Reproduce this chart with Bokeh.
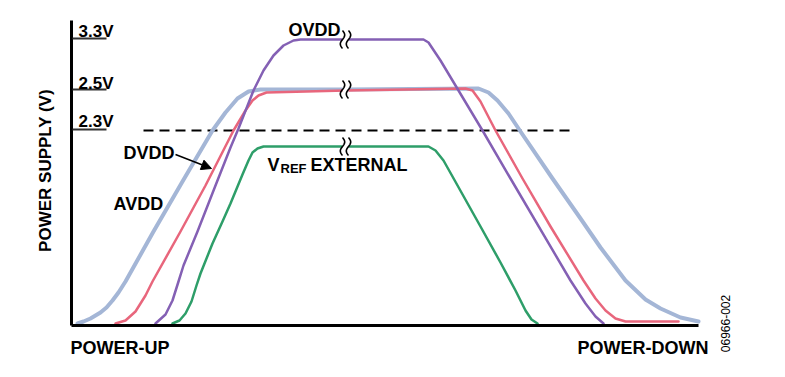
import numpy as np
from bokeh.plotting import figure
from bokeh.models import Range1d, Arrow, NormalHead
from bokeh.core.properties import value
from bokeh.embed import file_html
from bokeh.resources import INLINE

# Schematic power-up / power-down sequence (time units, level units above baseline)
avdd_t = [6, 12, 19, 24, 29, 35, 41, 47, 54, 82, 111, 141, 154, 166, 177, 189, 274, 407, 417, 426, 437, 449, 481, 509, 529, 554, 574, 589, 609, 627]
avdd_v = [2, 4, 7, 10, 13, 18, 25, 33, 44, 94, 144, 195, 213, 227, 234, 236, 236, 237, 233, 225, 212, 194, 147, 107, 78, 45, 26, 17, 8, 4]

dvdd_t = [44, 54, 64, 74, 81, 109, 134, 162, 174, 181, 187, 195, 274, 394, 401, 409, 424, 451, 479, 512, 524, 534, 544, 554, 607]
dvdd_v = [2, 5, 14, 30, 44, 94, 140, 195, 215, 225, 230, 233, 235, 237, 235, 224, 195, 147, 99, 45, 27, 15, 7, 4, 4]

ovdd_t = [84, 94, 101, 107, 112, 126, 144, 159, 167, 182, 192, 202, 212, 222, 229, 352, 357, 369, 399, 411, 439, 499, 514, 524, 532]
ovdd_v = [2, 11, 25, 44, 60, 94, 140, 178, 197, 235, 255, 270, 280, 285, 286, 286, 283, 265, 215, 195, 147, 45, 22, 9, 2]

vref_t = [101, 108, 114, 120, 125, 129, 141, 151, 159, 171, 177, 181, 186, 192, 357, 364, 372, 381, 409, 429, 444, 454, 460, 466]
vref_v = [2, 5, 12, 24, 40, 52, 82, 104, 122, 151, 165, 173, 177, 179, 179, 175, 165, 149, 99, 63, 35, 15, 6, 2]

level_labels = ["3.3V", "2.5V", "2.3V"]
level_values = [287, 236, 196]
threshold = 195
break_t = 274

FONT = value("Liberation Sans")

p = figure(width=785, height=377, x_range=Range1d(-71, 714), y_range=Range1d(-52, 325),
           output_backend="svg", toolbar_location=None, min_border=0,
           x_axis_location=None, y_axis_location=None)
p.grid.visible = False
p.outline_line_color = None
p.background_fill_color = "white"
p.border_fill_color = "white"

# threshold dashed line
p.line([72, 499], [threshold, threshold], line_color="black", line_width=2, line_dash="10 6")

# curves
p.line(avdd_t, avdd_v, line_color="#a4b6d6", line_width=4, line_join="round", line_cap="round")
p.line(dvdd_t, dvdd_v, line_color="#e8667c", line_width=2.5, line_join="round", line_cap="round")
p.line(ovdd_t, ovdd_v, line_color="#8460b4", line_width=2.5, line_join="round", line_cap="round")
p.line(vref_t, vref_v, line_color="#2e9e69", line_width=2.5, line_join="round", line_cap="round")

# break marks
for lvl in [286, 236, 179]:
    p.rect([break_t], [lvl], width=6, height=7, fill_color="white", line_color=None)
    s = np.linspace(-1, 1, 30)
    for dx in (-3, 3):
        xs = break_t + dx + 2.2 * np.sin(np.pi * s)
        ys = lvl + 9 * s
        p.line(xs, ys, line_color="black", line_width=1.6)

# axes
p.line([0, 0], [0, 305], line_color="black", line_width=3)
p.line([0, 627], [0, 0], line_color="black", line_width=3)

# level ticks and labels
for lab, lv in zip(level_labels, level_values):
    p.line([1, 35], [lv, lv], line_color="#333333", line_width=2)
p.text(x=[7, 7, 7], y=[294, 242, 204], text=level_labels, text_font=FONT, text_font_style="bold",
       text_font_size="17px", text_baseline="alphabetic", text_align="left", text_color="black")

def label(x, y, t, size="18px", align="left", angle=0, baseline="alphabetic", style="bold"):
    p.text(x=[x], y=[y], text=[t], text_font=FONT, text_font_style=style, text_font_size=size,
           text_align=align, text_baseline=baseline, angle=angle, text_color="black")

label(217, 296, "OVDD")
label(52, 173, "DVDD")
label(42, 122, "AVDD")
label(196, 161, "V")
label(209, 157, "REF", size="13px")
label(239, 161, "EXTERNAL")
label(-1, -22, "POWER-UP")
label(637, -22, "POWER-DOWN", align="right")
label(654, 2, "06966-002", size="12px", align="center", angle=np.pi / 2, baseline="middle", style="normal")
label(-26, 155, "POWER SUPPLY (V)", size="17px", align="center", angle=np.pi / 2, baseline="middle")

p.add_layout(Arrow(end=NormalHead(size=10, fill_color="black", line_color="black"),
                   x_start=104, y_start=171, x_end=140, y_end=157,
                   line_color="black", line_width=1.5))

open("out.html", "w").write(file_html(p, INLINE))
